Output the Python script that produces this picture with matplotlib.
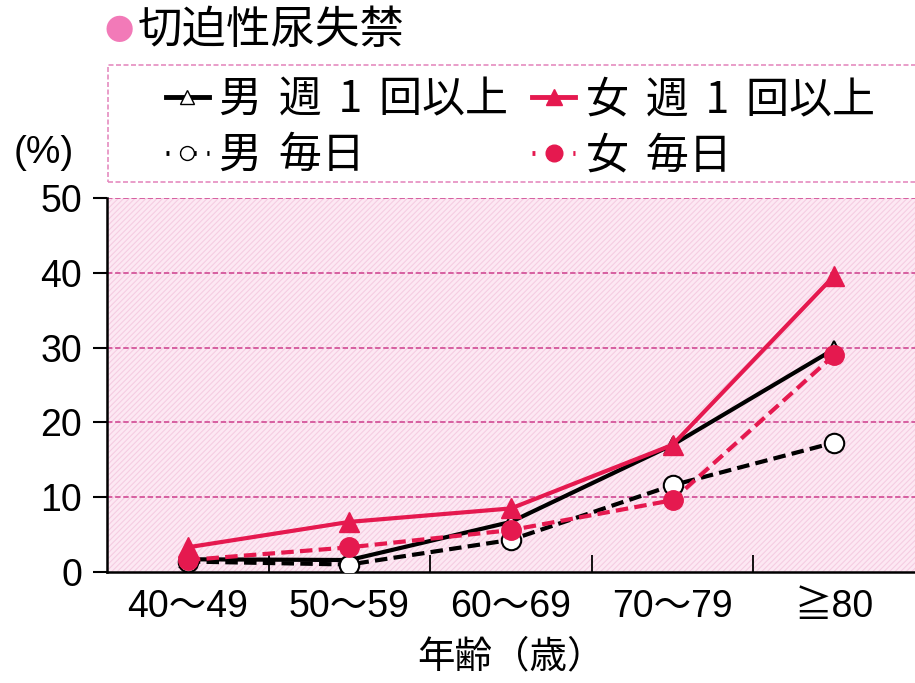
import matplotlib
matplotlib.use("Agg")
import matplotlib.pyplot as plt
from matplotlib.patches import Rectangle
from matplotlib.lines import Line2D

plt.rcParams['font.family'] = ['Liberation Sans', 'Noto Sans CJK JP', 'DejaVu Sans']
plt.rcParams['hatch.linewidth'] = 0.8
CJK = ['Noto Sans CJK JP', 'DejaVu Sans']

ages = ['40～49', '50～59', '60～69', '70～79', '≧80']
male_weekly = [1.7, 1.6, 6.7, 17.0, 29.8]
female_weekly = [3.3, 6.7, 8.5, 17.0, 39.6]
male_daily = [1.4, 1.0, 4.3, 11.6, 17.3]
female_daily = [1.6, 3.3, 5.6, 9.6, 29.0]

RED = '#e5194f'
PINK = '#d4559a'

fig = plt.figure(figsize=(9.15, 6.83), dpi=100)
ax = fig.add_axes([107 / 915, 1 - 572 / 683, (915 - 107) / 915, (572 - 198) / 683])

# hatched pink background
ax.set_facecolor('#fde8f3')
ax.add_patch(Rectangle((0, 0), 1, 1, transform=ax.transAxes, facecolor='none',
                       edgecolor='#f5cde2', hatch='//////', lw=0, zorder=0))

x = range(len(ages))
dash = (0, (3, 1.5))
ax.plot(x, male_weekly, color='black', lw=3, marker='^', ms=12,
        mfc='white', mec='black', mew=1.5, zorder=3)
ax.plot(x, female_weekly, color=RED, lw=3, marker='^', ms=14,
        mfc=RED, mec=RED, zorder=4)
ax.plot(x, male_daily, color='black', lw=3, ls=dash, marker='o', ms=14,
        mfc='white', mec='black', mew=1.5, zorder=3)
ax.plot(x, female_daily, color=RED, lw=3, ls=dash, marker='o', ms=14,
        mfc=RED, mec=RED, zorder=4)

ax.set_xlim(-0.5, 4.5)
ax.set_ylim(0, 50)
ax.set_yticks(range(0, 51, 10))
for v in range(10, 51, 10):
    ax.axhline(v, color=PINK, lw=1.3, ls=(0, (3, 1.5)), zorder=1)

ax.set_xticks(list(x))
ax.set_xticklabels(ages, fontsize=27)
ax.set_xticks([0.5, 1.5, 2.5, 3.5], minor=True)
ax.tick_params(axis='x', which='major', length=0, pad=12)
ax.tick_params(axis='x', which='minor', direction='in', length=12, width=1.3)
ax.tick_params(axis='y', labelsize=27, length=10, width=1.5, pad=8)

for s in ['top', 'right']:
    ax.spines[s].set_visible(False)
ax.spines['left'].set_linewidth(1.8)
ax.spines['bottom'].set_linewidth(1.8)

ax.set_xlabel('年齢（歳）', fontsize=27, labelpad=9, family=CJK)
fig.text(14 / 915, 1 - 153 / 683, '(%)', fontsize=28, va='center', ha='left')

# title with bullet
fig.text(104 / 915, 1 - 32 / 683, '●', fontsize=21, color='#f27ab8', va='center',
         family=CJK)
fig.text(138 / 915, 1 - 30 / 683, '切迫性尿失禁', fontsize=32, va='center', family=CJK)

# dashed legend box
fig.patches.append(Rectangle((108 / 915, 1 - 182 / 683), 0.95, (182 - 65) / 683,
                             transform=fig.transFigure, fill=False,
                             edgecolor='#e58cc0', lw=1.2, ls=(0, (3, 1.5))))

handles = [
    Line2D([], [], color='black', lw=3.5, marker='^', ms=10, mfc='white', mec='black'),
    Line2D([], [], color='black', lw=3.5, ls=(0, (0.6, 2.2)), marker='o', ms=10,
           mfc='white', mec='black'),
    Line2D([], [], color=RED, lw=3.5, marker='^', ms=12, mfc=RED, mec=RED),
    Line2D([], [], color=RED, lw=3.5, ls=(0, (0.6, 2.2)), marker='o', ms=12,
           mfc=RED, mec=RED),
]
sp = ' \u2006'
labels = [f'男{sp}週{sp}1{sp}回以上', f'男{sp}毎日', f'女{sp}週{sp}1{sp}回以上', f'女{sp}毎日']
fig.legend(handles, labels, loc='center left', bbox_to_anchor=(144 / 915, 1 - 128 / 683),
           ncol=2, frameon=False, prop={'family': CJK, 'size': 31},
           handlelength=1.0, handletextpad=0.25,
           columnspacing=0.55, labelspacing=0.28, borderpad=0)

fig.savefig('out.png', dpi=100)
